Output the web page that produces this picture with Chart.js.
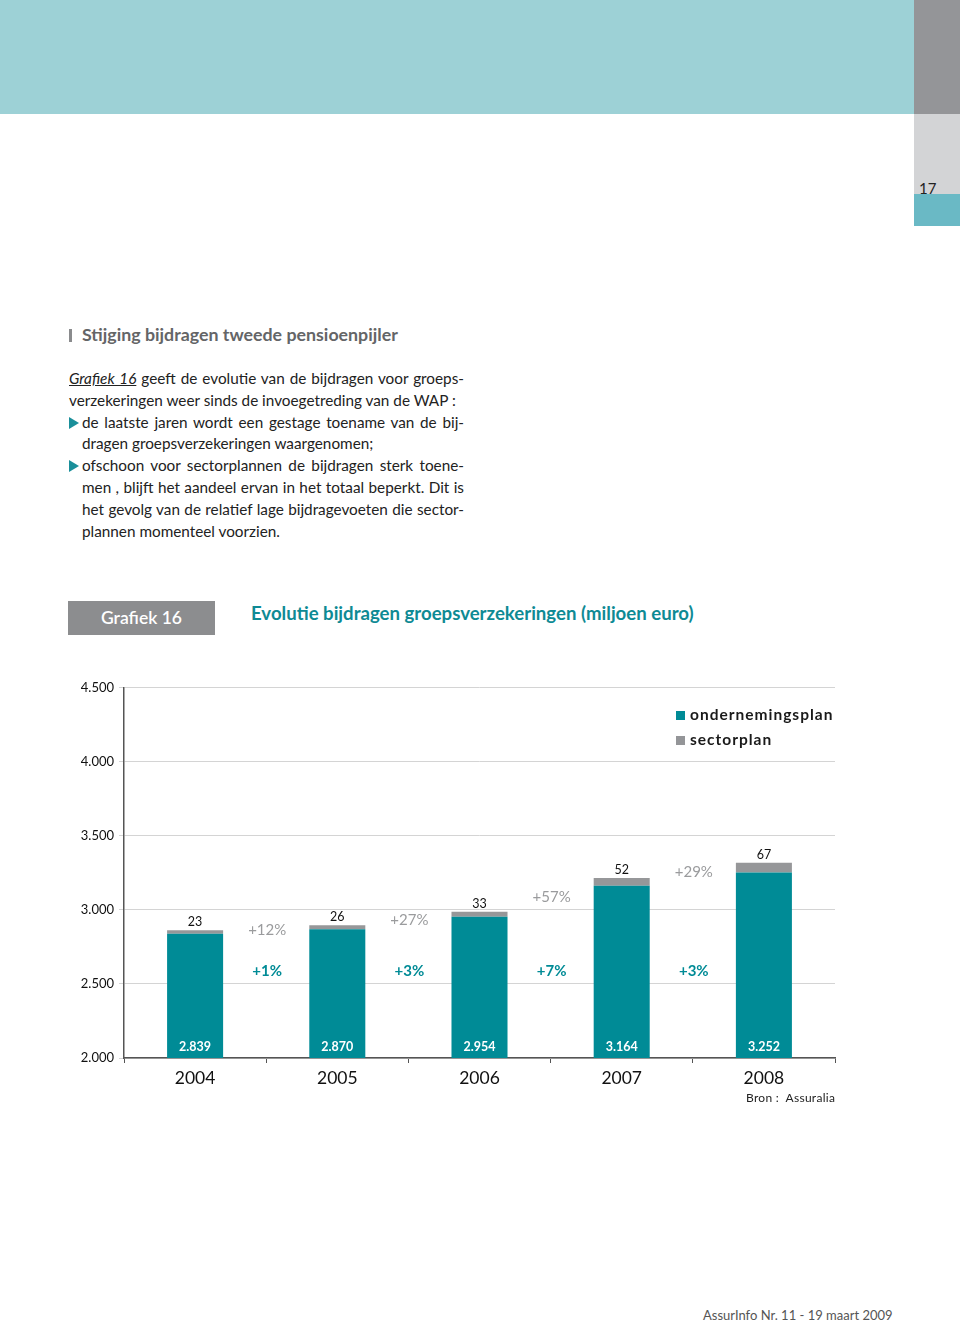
<!DOCTYPE html>
<html>
<head>
<meta charset="utf-8">
<script src="https://cdn.jsdelivr.net/npm/chart.js@4"></script>
<style>
  body { margin: 0; background: #fff; }
  #page { position: relative; width: 960px; height: 1322px; overflow: hidden; font-family: Lato, "Open Sans", sans-serif; }
  .abs { position: absolute; }
  #band { left: 0; top: 0; width: 914px; height: 114px; background: #9dd1d6; }
  #tabDark { left: 914px; top: 0; width: 46px; height: 114px; background: #949598; }
  #tabLight { left: 914px; top: 114px; width: 46px; height: 80px; background: #d3d4d6; }
  #tabTeal { left: 914px; top: 194px; width: 46px; height: 32px; background: #6ab9c5; }
  #pageNo { left: 919px; top: 179px; font-size: 15px; color: #222; }
  #heading { left: 69px; top: 323px; font-size: 17.8px; font-weight: bold; color: #646567; }
  #heading span { display: inline-block; width: 3px; height: 13px; background: #8a8b8d; margin-right: 10px; vertical-align: -1px; }
  #body { left: 69px; top: 368px; width: 395px; font-size: 15.3px; line-height: 21.8px; color: #222; }
  #body div { text-align: justify; text-align-last: justify; white-space: nowrap; }
  #body div.last { text-align-last: left; }
  #body .ind { padding-left: 13px; }
  #body .tri { position: absolute; left: 0; width: 0; height: 0; border-top: 6px solid transparent; border-bottom: 6px solid transparent; border-left: 10px solid #1a8f9a; margin-top: 5px; }
  #gbox { left: 68px; top: 601px; width: 147px; height: 34px; background: #8c8d8f; color: #fff; font-size: 17.5px; line-height: 34px; text-align: center; font-weight: 600; }
  #gtitle { left: 251px; top: 602px; font-size: 18.6px; font-weight: bold; color: #0e8a94; }
  #chartWrap { left: 60px; top: 675px; width: 790px; height: 418px; }
  .leg { left: 676px; font-size: 15.5px; font-weight: bold; letter-spacing: 1px; color: #1a1a1a; }
  .leg i { display: inline-block; width: 9px; height: 9px; margin-right: 5px; vertical-align: 0px; }
  #bron { left: 746px; top: 1090px; font-size: 12px; letter-spacing: 0.3px; color: #222; }
  #footer { left: 703px; top: 1307px; font-size: 13px; color: #555; }
</style>
</head>
<body>
<div id="page">
  <div id="band" class="abs"></div>
  <div id="tabDark" class="abs"></div>
  <div id="tabLight" class="abs"></div>
  <div id="tabTeal" class="abs"></div>
  <div id="pageNo" class="abs">17</div>

  <div id="heading" class="abs"><span></span>Stijging bijdragen tweede pensioenpijler</div>

  <div id="body" class="abs">
    <div><u style="font-style:italic">Grafiek 16</u> geeft de evolutie van de bijdragen voor groeps-</div>
    <div class="last">verzekeringen weer sinds de invoegetreding van de WAP :</div>
    <div class="ind"><b class="tri"></b>de laatste jaren wordt een gestage toename van de bij-</div>
    <div class="ind last">dragen groepsverzekeringen waargenomen;</div>
    <div class="ind"><b class="tri"></b>ofschoon voor sectorplannen de bijdragen sterk toene-</div>
    <div class="ind">men , blijft het aandeel ervan in het totaal beperkt. Dit is</div>
    <div class="ind">het gevolg van de relatief lage bijdragevoeten die sector-</div>
    <div class="ind last">plannen momenteel voorzien.</div>
  </div>

  <div id="gbox" class="abs">Grafiek 16</div>
  <div id="gtitle" class="abs">Evolutie bijdragen groepsverzekeringen (miljoen euro)</div>

  <div id="chartWrap" class="abs"><canvas id="bijdragenChart"></canvas></div>

  <div class="abs leg" style="top:705px"><i style="background:#008b96"></i>ondernemingsplan</div>
  <div class="abs leg" style="top:730px"><i style="background:#949598"></i>sectorplan</div>

  <div id="bron" class="abs">Bron :&nbsp; Assuralia</div>
  <div id="footer" class="abs">AssurInfo Nr. 11 - 19 maart 2009</div>
</div>

<script>
// Jaren en bijdragen (miljoen euro)
const years = ["2004", "2005", "2006", "2007", "2008"];
const ondernemingsplan = [2839, 2870, 2954, 3164, 3252];
const sectorplan = [23, 26, 33, 52, 67];
// groei tussen opeenvolgende jaren
const groeiSector = ["+12%", "+27%", "+57%", "+29%"];
const groeiOnderneming = ["+1%", "+3%", "+7%", "+3%"];
const yTicks = [2000, 2500, 3000, 3500, 4000, 4500];

const teal = "#008b96";
const grey = "#969799";

const fmt = v => v.toLocaleString("de-DE");

// waarden en groeicijfers op de grafiek
const labelPlugin = {
  id: "barLabels",
  afterDatasetsDraw(chart) {
    const ctx = chart.ctx;
    const y = chart.scales.y;
    const base = chart.getDatasetMeta(0).data;
    const top = chart.getDatasetMeta(1).data;
    ctx.save();
    ctx.textAlign = "center";
    ctx.textBaseline = "middle";
    base.forEach((bar, i) => {
      ctx.fillStyle = "#fff";
      ctx.font = "bold 12.5px Lato, sans-serif";
      ctx.fillText(fmt(ondernemingsplan[i]), bar.x, chart.chartArea.bottom - 11);
      ctx.fillStyle = "#111";
      ctx.font = "12.5px Lato, sans-serif";
      ctx.fillText(sectorplan[i], top[i].x, top[i].y - 8);
    });
    for (let i = 0; i < years.length - 1; i++) {
      const x = (base[i].x + base[i + 1].x) / 2;
      const t1 = ondernemingsplan[i] + sectorplan[i];
      const t2 = ondernemingsplan[i + 1] + sectorplan[i + 1];
      ctx.font = "15px Lato, sans-serif";
      ctx.fillStyle = "#9a9b9d";
      ctx.fillText(groeiSector[i], x + 1, y.getPixelForValue((t1 + t2) / 2) + 2);
      ctx.font = "bold 15px Lato, sans-serif";
      ctx.fillStyle = teal;
      ctx.fillText(groeiOnderneming[i], x + 1, y.getPixelForValue(2585));
    }
    ctx.restore();
  }
};

new Chart(document.getElementById("bijdragenChart"), {
  type: "bar",
  data: {
    labels: years,
    datasets: [
      { label: "ondernemingsplan", data: ondernemingsplan, backgroundColor: teal },
      { label: "sectorplan", data: sectorplan, backgroundColor: grey }
    ]
  },
  options: {
    responsive: true,
    maintainAspectRatio: false,
    animation: false,
    layout: { padding: { top: 10, right: 15 } },
    plugins: {
      legend: { display: false },
      tooltip: { enabled: false }
    },
    datasets: {
      bar: { categoryPercentage: 1, barPercentage: 0.394 }
    },
    scales: {
      x: {
        stacked: true,
        grid: { offset: true, drawOnChartArea: false, tickLength: 5, color: "#555" },
        border: { color: "#555", width: 1.5 },
        ticks: { color: "#111", font: { family: "Lato, sans-serif", size: 17.5 }, padding: 5 },
        afterFit: s => { s.height = 35; }
      },
      y: {
        stacked: true,
        min: 2000,
        max: 4500,
        afterBuildTicks: s => { s.ticks = yTicks.map(v => ({ value: v })); },
        grid: { color: "#d4d4d4", tickLength: 5 },
        border: { color: "#555", width: 1.5 },
        ticks: {
          color: "#111",
          font: { family: "Lato, sans-serif", size: 13 },
          padding: 5,
          callback: v => fmt(v)
        },
        afterFit: s => { s.width = 64; }
      }
    }
  },
  plugins: [labelPlugin]
});
</script>
</body>
</html>
